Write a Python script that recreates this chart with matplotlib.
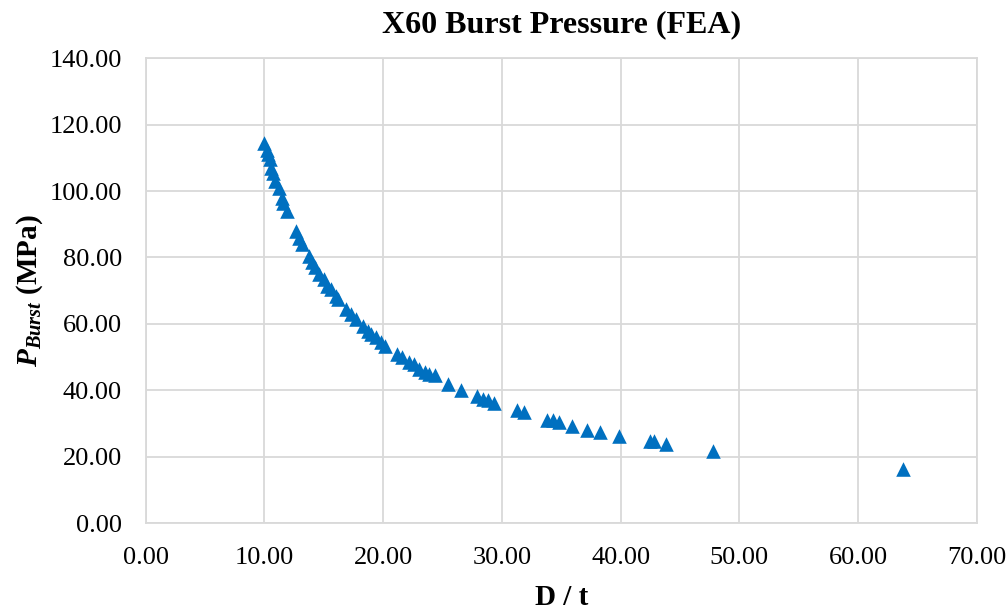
import matplotlib
matplotlib.use("Agg")
import matplotlib.pyplot as plt

d_over_t = [10.0, 10.2, 10.3, 10.5, 10.6, 10.75, 10.9, 11.2, 11.5, 11.6, 11.9,
            12.7, 12.9, 13.2, 13.8, 14.0, 14.3, 14.6, 15.0, 15.3, 15.6, 16.0, 16.2,
            16.9, 17.3, 17.7, 18.3, 18.7, 19.0, 19.4, 19.8, 20.2, 21.2, 21.6, 22.2,
            22.6, 23.0, 23.5, 23.9, 24.4, 25.5, 26.6, 27.9, 28.4, 28.8, 29.3, 31.3,
            31.9, 33.8, 34.3, 34.8, 35.9, 37.2, 38.3, 39.9, 42.5, 42.8, 43.8, 47.8, 63.8]
p_burst = [114.5, 112.5, 111.0, 109.5, 107.0, 105.5, 103.0, 101.0, 98.0, 96.5, 94.0,
           88.0, 86.0, 84.0, 80.5, 78.5, 77.0, 75.0, 73.5, 71.5, 70.5, 68.5, 67.5,
           64.5, 63.0, 61.5, 59.5, 58.0, 57.0, 56.0, 54.5, 53.5, 51.0, 50.0, 48.5,
           48.0, 46.5, 45.5, 45.0, 44.5, 42.0, 40.0, 38.3, 37.5, 37.0, 36.3, 34.0,
           33.5, 31.0, 31.0, 30.5, 29.3, 28.0, 27.4, 26.2, 24.7, 24.7, 23.8, 21.8, 16.3]

x_ticks = [0, 10, 20, 30, 40, 50, 60, 70]
y_ticks = [0, 20, 40, 60, 80, 100, 120, 140]

plt.rcParams['mathtext.fontset'] = 'custom'
plt.rcParams['mathtext.rm'] = 'Liberation Serif'
plt.rcParams['mathtext.it'] = 'Liberation Serif:italic'
plt.rcParams['mathtext.bf'] = 'Liberation Serif:bold'
plt.rcParams['mathtext.bfit'] = 'Liberation Serif:bold:italic'

serif = 'Liberation Serif'
fig = plt.figure(figsize=(10.07, 6.12), dpi=100)
ax = fig.add_axes([0.1446, 0.145, 0.8254, 0.760])

ax.scatter(d_over_t, p_burst, marker='^', s=110, color='#0070C0', zorder=3, linewidths=0)

ax.set_xlim(0, 70)
ax.set_ylim(0, 140)
ax.set_xticks(x_ticks)
ax.set_yticks(y_ticks)
ax.set_xticklabels([f"{v:.2f}" for v in x_ticks], fontfamily=serif, fontsize=19)
ax.set_yticklabels([f"{v:.2f}" for v in y_ticks], fontfamily=serif, fontsize=19)
ax.tick_params(axis='y', length=0, pad=17)
ax.tick_params(axis='x', length=0, pad=17)
ax.grid(True, color='#D9D9D9', linewidth=1.3)
ax.set_axisbelow(True)
for sp in ax.spines.values():
    sp.set_color('#D9D9D9')
    sp.set_linewidth(1.3)

ax.set_title("X60 Burst Pressure (FEA)", fontfamily=serif, fontsize=23, fontweight='bold', pad=19)
ax.set_xlabel("D / t", fontfamily=serif, fontsize=21, fontweight='bold', labelpad=11)
ax.set_ylabel(r"$\mathbfit{P}_{\mathbfit{Burst}}$ (MPa)", fontfamily=serif, fontsize=21,
              fontweight='bold', labelpad=3)

fig.savefig("out.png", dpi=100)
